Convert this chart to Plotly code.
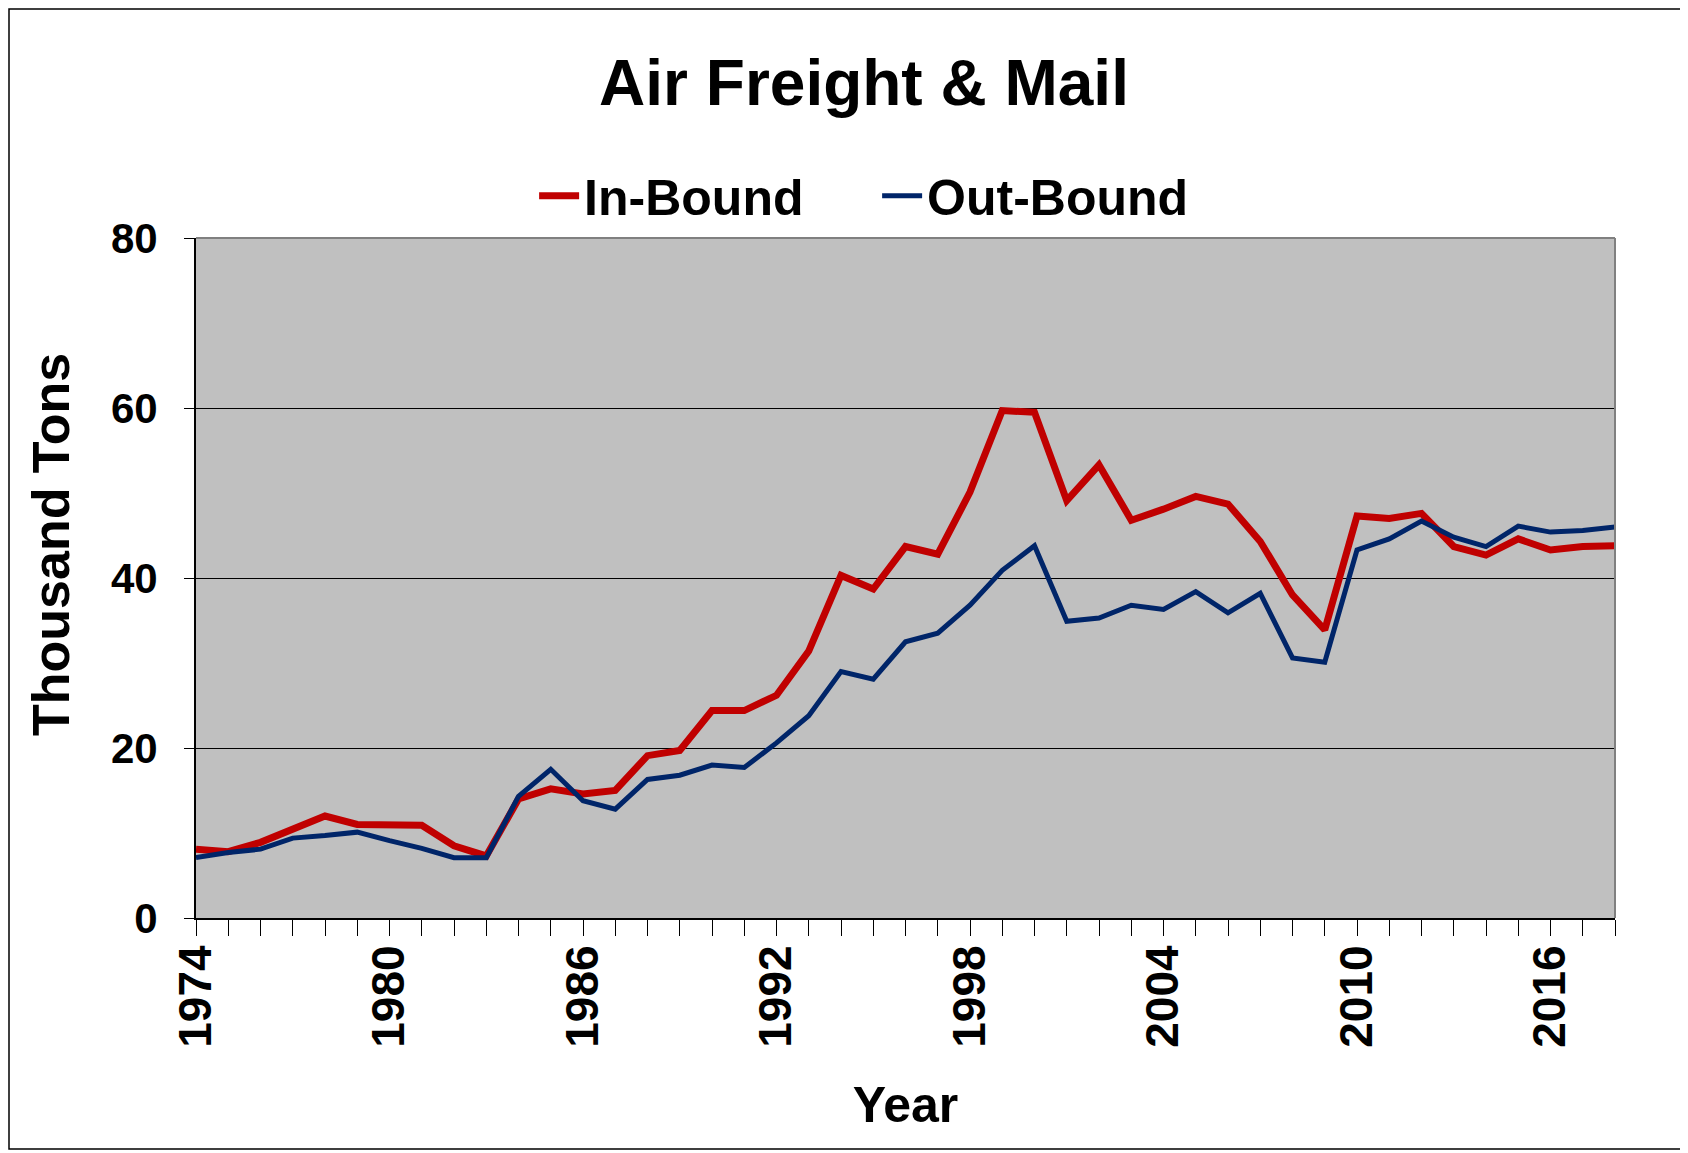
import plotly.graph_objects as go

years = list(range(1974, 2019))
in_bound = [8.1, 7.8, 8.9, 10.4, 12.0, 11.0, 10.9, 10.9, 8.5, 7.3,
            14.0, 15.2, 14.6, 15.0, 19.1, 19.7, 24.4, 24.4, 26.2, 31.4,
            40.3, 38.7, 43.7, 42.8, 50.1, 59.7, 59.5, 49.1, 53.3, 46.8,
            48.1, 49.6, 48.7, 44.3, 38.0, 33.9, 47.3, 47.0, 47.6, 43.7,
            42.7, 44.6, 43.3, 43.7, 43.8]
out_bound = [7.1, 7.7, 8.1, 9.4, 9.7, 10.1, 9.1, 8.2, 7.1, 7.1,
             14.3, 17.5, 13.8, 12.8, 16.3, 16.8, 18.0, 17.7, 20.6, 23.8,
             29.0, 28.1, 32.5, 33.5, 36.8, 40.9, 43.8, 34.9, 35.3, 36.8,
             36.3, 38.4, 35.9, 38.2, 30.6, 30.1, 43.3, 44.6, 46.7, 44.8,
             43.7, 46.1, 45.4, 45.6, 46.0]
x_tick_vals = list(range(1974, 2017, 6))
y_tick_vals = [0, 20, 40, 60, 80]

FONT = "Liberation Sans, Arial, sans-serif"
W, H = 1680, 1145
L, R, T, B = 188, 73, 230, 235
PW, PH = W - L - R, H - T - B

fig = go.Figure()
fig.add_trace(go.Scatter(x=years, y=in_bound, mode="lines", name="<b>In-Bound</b>",
                         line=dict(color="#C00000", width=7)))
fig.add_trace(go.Scatter(x=years, y=out_bound, mode="lines", name="<b>Out-Bound</b>",
                         line=dict(color="#002569", width=5)))

fig.update_layout(
    width=W, height=H,
    margin=dict(l=L, r=R, t=T, b=B, autoexpand=False),
    paper_bgcolor="white",
    plot_bgcolor="#C0C0C0",
    font=dict(family=FONT, color="black"),
    title=dict(text="<b>Air Freight &amp; Mail</b>", x=856 / W, xanchor="center",
               y=1 - 75 / H, yanchor="middle",
               font=dict(size=64, family=FONT, color="black")),
    legend=dict(orientation="h", x=0.480, xanchor="center", y=1.062, yanchor="middle",
                font=dict(size=50, family=FONT, color="black"),
                bgcolor="rgba(0,0,0,0)", itemwidth=40, tracegroupgap=0,
                entrywidth=288, entrywidthmode="pixels"),
    showlegend=True,
)
fig.update_xaxes(
    range=[1974, 2018], tickmode="array", tickvals=x_tick_vals,
    ticktext=[str(v) for v in x_tick_vals],
    tickangle=-90, ticks="outside", ticklen=16, tickcolor="black", tickwidth=1,
    minor=dict(tickmode="linear", tick0=1974, dtick=1, ticks="outside", ticklen=16,
               tickcolor="black", showgrid=False),
    tickfont=dict(size=46, family=FONT, color="black", weight="bold"),
    showline=True, linecolor="black", linewidth=2, showgrid=False, zeroline=False,
    ticklabelstandoff=-9,
    title=dict(text="<b>Year</b>", font=dict(size=50, family=FONT, color="black"),
               standoff=40),
)
fig.update_yaxes(
    range=[0, 80], tickmode="array", tickvals=y_tick_vals,
    ticks="outside", ticklen=10, tickcolor="black", tickwidth=1,
    tickfont=dict(size=42, family=FONT, color="black", weight="bold"),
    showline=True, linecolor="black", linewidth=2,
    showgrid=True, gridcolor="black", gridwidth=1, zeroline=False,
    ticklabelstandoff=18,
)
# y-axis title (placed slightly above the plot centre, as in the reference)
fig.add_annotation(text="<b>Thousand Tons</b>", xref="paper", yref="paper",
                   x=(43 - L) / PW, y=(T + PH - 537) / PH, xanchor="center", yanchor="middle",
                   textangle=-90, showarrow=False,
                   font=dict(size=52, family=FONT, color="black"))

# plot area border on top and right (gray)
fig.add_shape(type="line", xref="paper", yref="paper", x0=0, x1=1, y0=1, y1=1,
              line=dict(color="#808080", width=2), layer="above")
fig.add_shape(type="line", xref="paper", yref="paper", x0=1, x1=1, y0=0, y1=1,
              line=dict(color="#808080", width=2), layer="above")
# outer figure border
fig.add_shape(type="rect", xref="paper", yref="paper",
              x0=(1 - L) / PW, x1=(W - 3 - L) / PW,
              y0=(T + PH - (H - 4)) / PH, y1=(T + PH - 1) / PH,
              line=dict(color="black", width=1.5), fillcolor="rgba(0,0,0,0)")

fig.write_html("out.html")
